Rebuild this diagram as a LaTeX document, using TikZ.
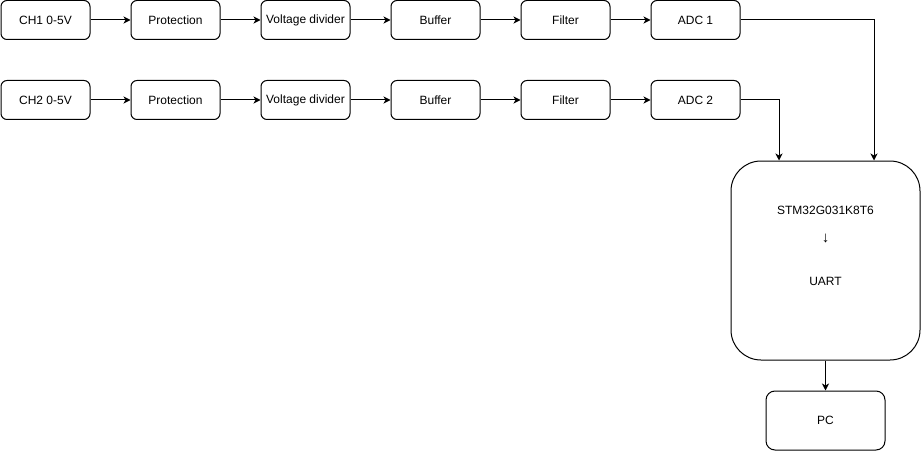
\documentclass[tikz,border=0pt]{standalone}
\usepackage{fontspec}
\setmainfont{Liberation Sans}
\usetikzlibrary{arrows.meta}

\begin{document}
\begin{tikzpicture}[x=1pt,y=-1pt,line width=1pt,
  font=\fontsize{12}{14}\selectfont,
  block/.style={draw,rounded corners=6pt,minimum width=89pt,minimum height=39pt,inner sep=0pt},
  mcu/.style={draw,rounded corners=30pt,minimum width=189pt,minimum height=199pt,inner sep=0pt},
  host/.style={draw,rounded corners=9pt,minimum width=119pt,minimum height=59pt,inner sep=0pt},
  link/.style={-{Stealth[length=7pt,width=7pt,inset=2pt]}}]
\useasboundingbox (0,0) rectangle (922,452);
% channel 1
\node [block] (ch1) at (45.5,20) {CH1 0-5V};
\node [block] (prot1) at (175.5,20) {Protection};
\node [block] (div1) at (305.5,20) {Voltage divider};
\node [block] (buf1) at (435.5,20) {Buffer};
\node [block] (filt1) at (565.5,20) {Filter};
\node [block] (adc1) at (695.5,20) {ADC 1};
% channel 2
\node [block] (ch2) at (45.5,100) {CH2 0-5V};
\node [block] (prot2) at (175.5,100) {Protection};
\node [block] (div2) at (305.5,100) {Voltage divider};
\node [block] (buf2) at (435.5,100) {Buffer};
\node [block] (filt2) at (565.5,100) {Filter};
\node [block] (adc2) at (695.5,100) {ADC 2};
% controller and host
\node [mcu] (stm) at (825.5,260.5) {};
\node (stmname) at (825.5,210) {STM32G031K8T6};
\node [font=\fontsize{15}{16}\selectfont] (stmarrow) at (825.5,239) {↓};
\node (uart) at (825.5,281.5) {UART};
\node [host] (pc) at (825.5,420.5) {PC};
\coordinate (bend1) at (874,20);
\coordinate (bend2) at (779,100);
% connectors
\draw [link] (ch1) -- (prot1);
\draw [link] (prot1) -- (div1);
\draw [link] (div1) -- (buf1);
\draw [link] (buf1) -- (filt1);
\draw [link] (filt1) -- (adc1);
\draw [link] (ch2) -- (prot2);
\draw [link] (prot2) -- (div2);
\draw [link] (div2) -- (buf2);
\draw [link] (buf2) -- (filt2);
\draw [link] (filt2) -- (adc2);
\draw [link] (adc1.east) -- (bend1) -- (bend1 |- stm.north);
\draw [link] (adc2.east) -- (bend2) -- (bend2 |- stm.north);
\draw [link] (stm) -- (pc);
\end{tikzpicture}
\end{document}
